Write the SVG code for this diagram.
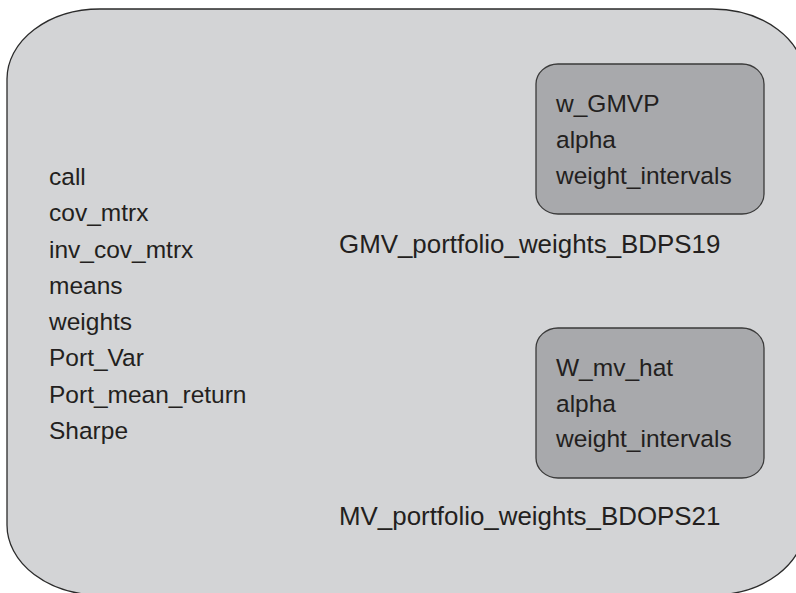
<svg xmlns="http://www.w3.org/2000/svg" width="796" height="593" viewBox="0 0 796 593">
<style>
.t{font-family:"Liberation Sans",Arial,sans-serif;font-size:24.5px;fill:#231f20}
.lbl{font-size:25.9px}
.outer{fill:#d3d4d6;stroke:#2b2b2b;stroke-width:1.3}
.inner{fill:#a8a9ac;stroke:#3a3a3a;stroke-width:1.3}
</style>
<rect x="0" y="0" width="796" height="593" fill="#ffffff"/>
<g id="package">
<rect class="outer" x="7" y="9" width="798" height="586" rx="93" ry="70"/>
<text class="t" x="49" y="185">call</text>
<text class="t" x="49" y="221.3">cov_mtrx</text>
<text class="t" x="49" y="257.6">inv_cov_mtrx</text>
<text class="t" x="49" y="293.9">means</text>
<text class="t" x="49" y="330.1">weights</text>
<text class="t" x="49" y="366.4">Port_Var</text>
<text class="t" x="49" y="402.7">Port_mean_return</text>
<text class="t" x="49" y="439">Sharpe</text>
</g>
<g id="gmv">
<rect class="inner" x="536" y="64" width="228" height="150" rx="22" ry="20"/>
<text class="t" x="556" y="112">w_GMVP</text>
<text class="t" x="556" y="148">alpha</text>
<text class="t" x="556" y="184">weight_intervals</text>
<text class="t lbl" x="339" y="253">GMV_portfolio_weights_BDPS19</text>
</g>
<g id="mv">
<rect class="inner" x="536" y="328" width="228" height="150" rx="22" ry="20"/>
<text class="t" x="556" y="376">W_mv_hat</text>
<text class="t" x="556" y="412">alpha</text>
<text class="t" x="556" y="447">weight_intervals</text>
<text class="t lbl" x="339" y="525">MV_portfolio_weights_BDOPS21</text>
</g>
<g id="connectors"/>
</svg>
